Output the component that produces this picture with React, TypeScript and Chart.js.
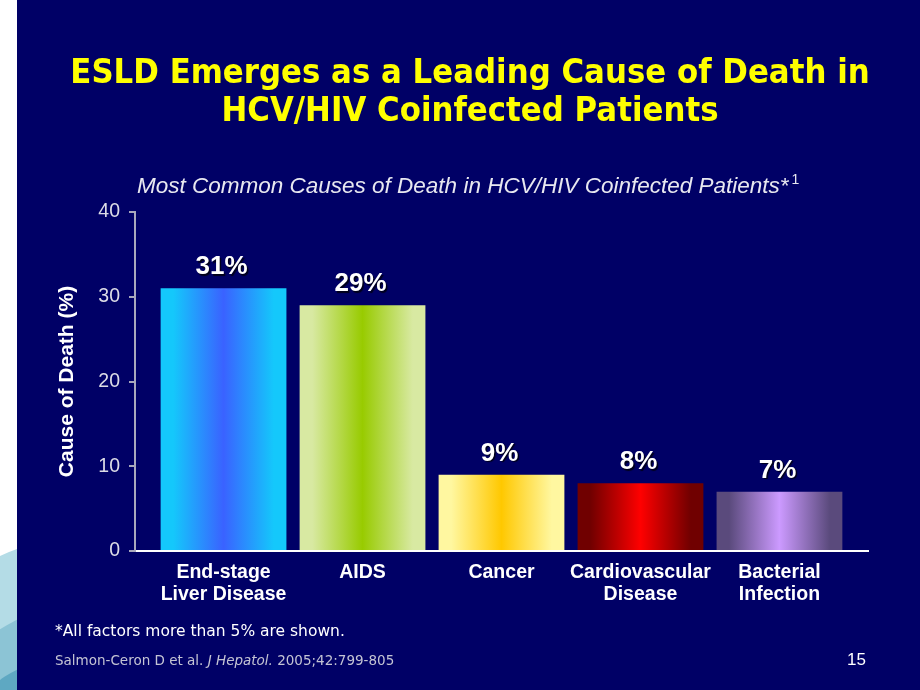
import React, { useEffect, useRef } from 'react';
import { Chart, registerables } from 'chart.js';

Chart.register(...registerables);

// ---- data ----
const CATEGORIES: string[][] = [
  ['End-stage', 'Liver Disease'],
  ['AIDS'],
  ['Cancer'],
  ['Cardiovascular', 'Disease'],
  ['Bacterial', 'Infection'],
];
const VALUES: number[] = [31, 29, 9, 8, 7];
const VALUE_LABELS: string[] = ['31%', '29%', '9%', '8%', '7%'];
const Y_TICKS: number[] = [0, 10, 20, 30, 40];
const BAR_EDGE_COLORS: string[] = ['#14c8fb', '#d8e9a2', '#fff7a0', '#700000', '#5a4a7c'];
const BAR_MID_COLORS: string[] = ['#3a62ff', '#98cb00', '#ffc800', '#ff0000', '#cc9aff'];

const TITLE_LINES: string[] = ['ESLD Emerges as a Leading Cause of Death in', 'HCV/HIV Coinfected Patients'];
const SUBTITLE = 'Most Common Causes of Death in HCV/HIV Coinfected Patients*';
const Y_TITLE = 'Cause of Death (%)';
const FOOTNOTE = '*All factors more than 5% are shown.';
const PAGE_NUMBER = '15';

const NAVY = '#000066';
const ARIAL = '"Liberation Sans", Arial, Helvetica, sans-serif';
const TAHOMA = '"DejaVu Sans", Verdana, sans-serif';
const BAR_PCT = 0.905;

const backgroundPlugin = {
  id: 'slideBackground',
  beforeDraw(chart: any) {
    const ctx = chart.ctx as CanvasRenderingContext2D;
    const w = chart.width;
    const h = chart.height;
    ctx.save();
    ctx.fillStyle = NAVY;
    ctx.fillRect(0, 0, w, h);
    ctx.fillStyle = '#ffffff';
    ctx.fillRect(0, 0, 17, h);
    ctx.beginPath();
    ctx.rect(0, 0, 17, h);
    ctx.clip();
    ctx.fillStyle = '#b4dce6';
    ctx.beginPath();
    ctx.arc(120, 820, 290, 0, Math.PI * 2);
    ctx.fill();
    ctx.fillStyle = '#8cc4d5';
    ctx.beginPath();
    ctx.arc(140, 860, 270, 0, Math.PI * 2);
    ctx.fill();
    ctx.fillStyle = '#5ea8c2';
    ctx.beginPath();
    ctx.arc(60, 760, 100, 0, Math.PI * 2);
    ctx.fill();
    ctx.restore();
  },
};

const valueLabelPlugin = {
  id: 'valueLabels',
  afterDatasetsDraw(chart: any) {
    const ctx = chart.ctx as CanvasRenderingContext2D;
    const meta = chart.getDatasetMeta(0);
    ctx.save();
    ctx.font = `bold 26px ${ARIAL}`;
    ctx.fillStyle = '#ffffff';
    ctx.textAlign = 'center';
    ctx.textBaseline = 'alphabetic';
    ctx.shadowColor = 'rgba(0,0,0,0.75)';
    ctx.shadowOffsetX = 1.5;
    ctx.shadowOffsetY = 1.5;
    ctx.shadowBlur = 1;
    meta.data.forEach((bar: any, i: number) => {
      ctx.fillText(VALUE_LABELS[i], bar.x - 2, bar.y - 14);
    });
    ctx.restore();
  },
};

function barGradient(ctx: any) {
  const chart = ctx.chart;
  const i = ctx.dataIndex;
  const xs = chart.scales && chart.scales.x;
  if (i === undefined || !xs) return BAR_MID_COLORS[0];
  const c = xs.getPixelForValue(i);
  const w = (xs.getPixelForValue(1) - xs.getPixelForValue(0)) * BAR_PCT;
  if (!isFinite(c) || !isFinite(w) || w <= 0) return BAR_MID_COLORS[i];
  const g = chart.ctx.createLinearGradient(c - w / 2, 0, c + w / 2, 0);
  g.addColorStop(0, BAR_EDGE_COLORS[i]);
  g.addColorStop(0.1, BAR_EDGE_COLORS[i]);
  g.addColorStop(0.5, BAR_MID_COLORS[i]);
  g.addColorStop(0.9, BAR_EDGE_COLORS[i]);
  g.addColorStop(1, BAR_EDGE_COLORS[i]);
  return g;
}

function ChartCanvas() {
  const ref = useRef<HTMLCanvasElement | null>(null);
  useEffect(() => {
    if (!ref.current) return;
    const chart = new Chart(ref.current, {
      type: 'bar',
      data: {
        datasets: [
          {
            data: VALUES.map((v, i) => ({ x: i, y: v })),
            backgroundColor: barGradient,
            borderWidth: 0,
            barPercentage: BAR_PCT,
            categoryPercentage: 1,
          },
        ],
      },
      options: {
        responsive: false,
        maintainAspectRatio: false,
        animation: false,
        layout: { padding: { top: 212, right: 52, bottom: 0, left: 0 } },
        plugins: {
          legend: { display: false },
          tooltip: { enabled: false },
          title: { display: false },
        },
        scales: {
          x: {
            type: 'linear',
            offset: false,
            min: -0.637,
            max: 4.637,
            afterBuildTicks: (s: any) => {
              s.ticks = CATEGORIES.map((_, i) => ({ value: i }));
            },
            afterFit: (s: any) => {
              s.height = 139;
            },
            grid: { display: false, drawTicks: false, offset: false },
            border: { display: true, color: '#ffffff', width: 2 },
            ticks: {
              autoSkip: false,
              maxRotation: 0,
              minRotation: 0,
              padding: 11,
              color: '#ffffff',
              font: { family: ARIAL, size: 19.5, weight: 'bold', lineHeight: 1.12 },
              callback: (v: any) => CATEGORIES[v as number] ?? '',
            },
          },
          y: {
            type: 'linear',
            min: 0,
            max: 40,
            afterBuildTicks: (s: any) => {
              s.ticks = Y_TICKS.map((v) => ({ value: v }));
            },
            afterFit: (s: any) => {
              s.width = 135;
            },
            grid: { drawOnChartArea: false, drawTicks: true, tickLength: 6, color: '#a8a8bc', lineWidth: 2 },
            border: { color: '#a8a8bc', width: 2 },
            ticks: { padding: 9, color: '#dcdce6', font: { family: ARIAL, size: 19.5 } },
            title: {
              display: true,
              text: Y_TITLE,
              color: '#ffffff',
              font: { family: ARIAL, size: 21, weight: 'bold' },
              padding: { top: 55, bottom: 0 },
            },
          },
        },
      } as any,
      plugins: [backgroundPlugin, valueLabelPlugin],
    });
    return () => chart.destroy();
  }, []);
  return <canvas ref={ref} width={920} height={690} style={{ position: 'absolute', left: 0, top: 0, width: 920, height: 690 }} />;
}

export default function App() {
  const line = (fs: number, baseline: number) => baseline - 0.846 * fs;
  return (
    <div style={{ position: 'fixed', left: 0, top: 0, width: 920, height: 690, overflow: 'hidden', background: NAVY }}>
      <ChartCanvas />
      {TITLE_LINES.map((t, i) => (
        <div
          key={i}
          style={{
            position: 'absolute',
            left: 0,
            width: 940,
            top: line(33, i === 0 ? 83 : 121),
            textAlign: 'center',
            fontFamily: TAHOMA,
            fontWeight: 'bold',
            fontSize: 33,
            lineHeight: '33px',
            color: '#ffff00',
            whiteSpace: 'nowrap',
            transform: 'scaleX(0.935)',
            transformOrigin: '470px 0',
          }}
        >
          {t}
        </div>
      ))}
      <div
        style={{
          position: 'absolute',
          left: 137,
          top: line(22.5, 194),
          fontFamily: ARIAL,
          fontStyle: 'italic',
          fontSize: 22.5,
          lineHeight: '22.5px',
          color: '#e8e8f0',
          whiteSpace: 'nowrap',
        }}
      >
        {SUBTITLE}
        <span style={{ fontStyle: 'normal', fontSize: 14, position: 'relative', top: -9, marginLeft: 3 }}>1</span>
      </div>
      <div
        style={{
          position: 'absolute',
          left: 55,
          top: line(15.5, 637),
          fontFamily: TAHOMA,
          fontSize: 15.5,
          lineHeight: '15.5px',
          color: '#ffffff',
          whiteSpace: 'nowrap',
        }}
      >
        {FOOTNOTE}
      </div>
      <div
        style={{
          position: 'absolute',
          left: 55,
          top: line(13.5, 665),
          fontFamily: TAHOMA,
          fontSize: 13.5,
          lineHeight: '13.5px',
          color: '#c4c4d4',
          whiteSpace: 'nowrap',
        }}
      >
        Salmon-Ceron D et al. <i>J Hepatol.</i> 2005;42:799-805
      </div>
      <div
        style={{
          position: 'absolute',
          right: 920 - 866,
          top: line(17, 665),
          fontFamily: ARIAL,
          fontSize: 17,
          lineHeight: '17px',
          color: '#ffffff',
          whiteSpace: 'nowrap',
        }}
      >
        {PAGE_NUMBER}
      </div>
    </div>
  );
}
